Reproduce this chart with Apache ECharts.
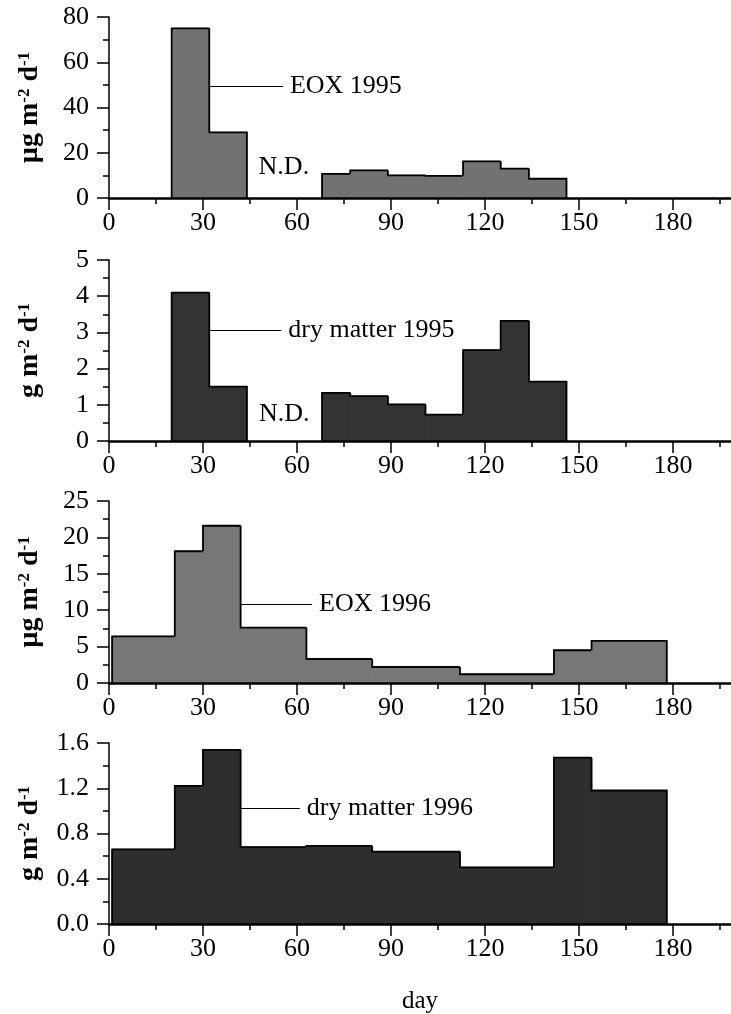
<!DOCTYPE html>
<html>
<head>
<meta charset="utf-8">
<script src="https://cdn.jsdelivr.net/npm/echarts@6/dist/echarts.min.js"></script>
<style>
html,body{margin:0;padding:0;background:#fff;}
#chart{width:731px;height:1014px;}
</style>
</head>
<body>
<div id="chart"></div>
<script>
// ---- data ----
const binStart1995 = [20, 32, 68, 77, 89, 101, 113, 125, 134];
const binEnd1995   = [32, 44, 77, 89, 101, 113, 125, 134, 146];
const eox1995      = [75, 29, 10.7, 12.2, 10.0, 9.8, 16.2, 13, 8.5];
const dry1995      = [4.1, 1.5, 1.33, 1.24, 1.01, 0.73, 2.51, 3.32, 1.64];

const binStart1996 = [1, 21, 30, 42, 63, 84, 112, 142, 154];
const binEnd1996   = [21, 30, 42, 63, 84, 112, 142, 154, 178];
const eox1996      = [6.4, 18.1, 21.6, 7.6, 3.3, 2.2, 1.2, 4.5, 5.8];
const dry1996      = [0.66, 1.22, 1.54, 0.68, 0.69, 0.64, 0.50, 1.47, 1.18];

const xTickLabels  = [0, 30, 60, 90, 120, 150, 180];
const xMinorTicks  = [15, 45, 75, 105, 135, 165, 195];
const panelLabels  = ['EOX 1995', 'dry matter 1995', 'EOX 1996', 'dry matter 1996'];

// ---- chart ----
const FONT = '"Liberation Serif", "Times New Roman", serif';
const chart = echarts.init(document.getElementById('chart'), null, {renderer: 'canvas'});

function buildBins(starts, ends, vals) {
  return vals.map((v, i) => {
    const prev = (i > 0 && ends[i - 1] === starts[i]) ? vals[i - 1] : 0;
    const last = (i === vals.length - 1 || starts[i + 1] !== ends[i]) ? 1 : 0;
    return [starts[i], ends[i], v, prev, last];
  });
}

function renderBins(fill) {
  return function (params, api) {
    const x0 = api.value(0), x1 = api.value(1), v = api.value(2), prev = api.value(3), last = api.value(4);
    const pb = api.coord([x0, 0]);
    const pt = api.coord([x1, v]);
    const pts = [api.coord([x0, prev]), api.coord([x0, v]), api.coord([x1, v])];
    if (last) pts.push(api.coord([x1, 0]));
    return {
      type: 'group',
      children: [
        {type: 'rect', shape: {x: pb[0], y: pt[1], width: pt[0] - pb[0], height: pb[1] - pt[1]},
         style: {fill: fill, stroke: fill, lineWidth: 1}},
        {type: 'polyline', shape: {points: pts}, style: {stroke: '#000', lineWidth: 1.8, fill: null}}
      ]
    };
  };
}

const grids = [
  {left: 109, width: 622, top: 17, height: 181, outerBoundsMode: 'none'},
  {left: 109, width: 622, top: 260, height: 181, outerBoundsMode: 'none'},
  {left: 109, width: 622, top: 501, height: 182, outerBoundsMode: 'none'},
  {left: 109, width: 622, top: 743, height: 181, outerBoundsMode: 'none'}
];

const yMax = [80, 5, 25, 1.6];
const yInt = [20, 1, 5, 0.4];
const yNames = [
  '{t|µg m}{s|-2}{t| d}{s|-1}',
  '{t|g m}{s|-2}{t| d}{s|-1}',
  '{t|µg m}{s|-2}{t| d}{s|-1}',
  '{t|g m}{s|-2}{t| d}{s|-1}'
];
const fills = ['#727272', '#333333', '#777777', '#2e2e2e'];
const binsAll = [
  buildBins(binStart1995, binEnd1995, eox1995),
  buildBins(binStart1995, binEnd1995, dry1995),
  buildBins(binStart1996, binEnd1996, eox1996),
  buildBins(binStart1996, binEnd1996, dry1996)
];
// annotation callouts (data coords): [xFrom, xTo, y]
const callouts = [[32, 55.5, 49.6], [32, 55.0, 3.07], [42, 64.8, 10.8], [42, 60.9, 1.025]];
const ndPoints = [[55.8, 13.8], [55.9, 0.73], null, null];

const tickLine = {color: '#000', width: 1.5};
const xAxes = [], yAxes = [], series = [];
grids.forEach((g, i) => {
  xAxes.push({
    type: 'value', gridIndex: i, min: 0, max: 198.5, position: 'bottom', z: 5,
    axisLine: {show: true, onZero: false, lineStyle: {color: '#000', width: 2.5}},
    axisTick: {show: true, customValues: xTickLabels, length: 12, lineStyle: tickLine},
    axisLabel: {show: true, customValues: xTickLabels, color: '#000', fontFamily: FONT, fontSize: 26, margin: 12},
    splitLine: {show: false},
    name: i === 3 ? 'day' : '',
    nameLocation: 'middle', nameGap: 65,
    nameTextStyle: {color: '#000', fontFamily: FONT, fontSize: 25}
  });
  xAxes.push({
    type: 'value', gridIndex: i, min: 0, max: 198.5, position: 'bottom', z: 5,
    axisLine: {show: false},
    axisTick: {show: true, customValues: xMinorTicks, length: 6, lineStyle: tickLine},
    axisLabel: {show: false},
    splitLine: {show: false}
  });
  yAxes.push({
    type: 'value', gridIndex: i, min: 0, max: yMax[i], interval: yInt[i], z: 5,
    axisLine: {show: true, lineStyle: {color: '#000', width: 1.5}},
    axisTick: {show: true, length: 12, lineStyle: tickLine},
    minorTick: {show: true, splitNumber: 2, length: 6, lineStyle: tickLine},
    axisLabel: {color: '#000', fontFamily: FONT, fontSize: 26, margin: 20,
      formatter: i === 3 ? (v => v.toFixed(1)) : (v => String(v))},
    splitLine: {show: false},
    name: yNames[i], nameLocation: 'middle', nameGap: 65, nameRotate: 90,
    nameTextStyle: {
      rich: {
        t: {fontFamily: FONT, fontSize: 28, fontWeight: 'bold', color: '#000'},
        s: {fontFamily: FONT, fontSize: 17, fontWeight: 'bold', color: '#000', verticalAlign: 'top'}
      }
    }
  });
  const c = callouts[i];
  const s = {
    type: 'custom', xAxisIndex: 2 * i, yAxisIndex: i,
    renderItem: renderBins(fills[i]),
    encode: {x: [0, 1], y: 2},
    data: binsAll[i],
    clip: true,
    markLine: {
      silent: true, symbol: ['none', 'none'], animation: false,
      lineStyle: {color: '#000', width: 1.2, type: 'solid'},
      label: {show: true, position: 'end', distance: 7, formatter: panelLabels[i],
        color: '#000', fontFamily: FONT, fontSize: 26},
      data: [[{coord: [c[0], c[2]]}, {coord: [c[1], c[2]]}]]
    }
  };
  if (ndPoints[i]) {
    s.markPoint = {
      silent: true, animation: false, symbol: 'circle', symbolSize: 1,
      itemStyle: {color: 'rgba(0,0,0,0)'},
      label: {show: true, position: 'inside', formatter: 'N.D.', color: '#000', fontFamily: FONT, fontSize: 26},
      data: [{coord: ndPoints[i]}]
    };
  }
  series.push(s);
});

chart.setOption({
  animation: false,
  backgroundColor: '#fff',
  grid: grids,
  xAxis: xAxes,
  yAxis: yAxes,
  series: series
});
</script>
</body>
</html>
